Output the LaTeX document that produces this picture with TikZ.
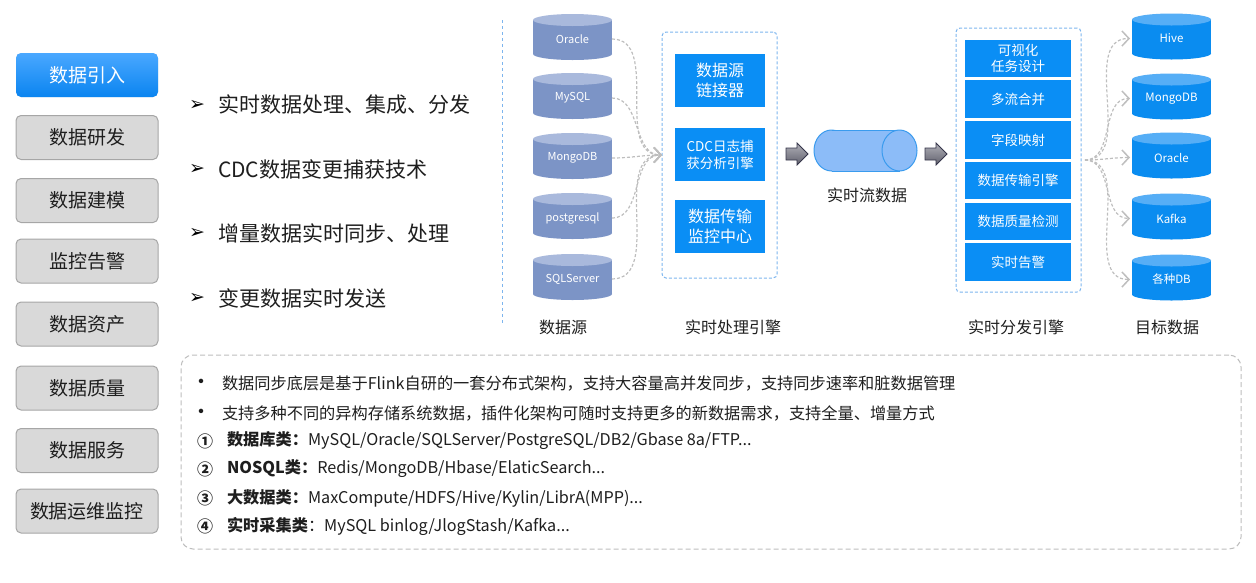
\documentclass[tikz,border=0pt]{standalone}
\usepackage{fontspec}
\setmainfont{Noto Sans CJK SC}
\newfontfamily\dejavu{DejaVu Sans}
\usetikzlibrary{arrows.meta}
\definecolor{txt}{HTML}{1E1E1E}
\definecolor{sidefill}{HTML}{D9D9D9}
\definecolor{sideline}{HTML}{A6A6A6}
\definecolor{btnTop}{HTML}{4AA8FF}
\definecolor{btnBot}{HTML}{0A84F0}
\definecolor{srcbody}{HTML}{7C94C6}
\definecolor{srctop}{HTML}{A9B9DC}
\definecolor{tgtbody}{HTML}{0A8CF0}
\definecolor{tgttop}{HTML}{56AEF6}
\definecolor{procblue}{HTML}{0A8EF5}
\definecolor{dashblue}{HTML}{7DB5EE}
\definecolor{flowgray}{HTML}{BEBEBE}
\definecolor{boxgray}{HTML}{BDBDBD}
\definecolor{streamfill}{HTML}{8CBCF8}
\definecolor{streamline}{HTML}{3A9BEE}
\definecolor{arrtop}{HTML}{B0B0B8}
\definecolor{arrbot}{HTML}{60606C}
\definecolor{arrline}{HTML}{35354A}
\newcommand\vcyl[7]{%
  \fill[#4] ({#2-39.5},{#3-17}) rectangle ({#2+39.5},{#3+17});
  \fill[#4] (#2,{#3+17}) ellipse[x radius=39.5pt, y radius=6pt];
  \fill[#5] (#2,{#3-17}) ellipse[x radius=39.5pt, y radius=6pt];
  \node[cyltext, font=\fontsize{#7}{#7}\selectfont, minimum width=79pt, minimum height=46pt] (#1) at (#2,{#3+2}) {#6};
}
\begin{document}
\begin{tikzpicture}[x=1pt,y=-1pt,
  every node/.style={inner sep=0pt, outer sep=0pt},
  side/.style={draw=sideline, fill=sidefill, rounded corners=5pt, minimum width=142pt, minimum height=44pt, line width=1pt, text=txt, font=\fontsize{19}{20}\selectfont},
  sideact/.style={side, draw=none, top color=btnTop, bottom color=btnBot, text=white},
  feat/.style={anchor=west, text=txt, font=\fontsize{21}{22}\selectfont},
  featmark/.style={text=black, font=\dejavu\bfseries\fontsize{19}{20}\selectfont},
  cyltext/.style={text=white},
  pblk/.style={fill=procblue, text=white, align=center, minimum width=90pt, minimum height=53pt},
  dblk/.style={fill=procblue, text=white, align=center, minimum width=106pt, minimum height=37.5pt, font=\fontsize{13.5}{15.5}\selectfont},
  dashbox/.style={draw=dashblue, dash pattern=on 3pt off 2pt, line width=1pt, rounded corners=4pt},
  flow/.style={draw=flowgray, dash pattern=on 3pt off 2pt, line width=1.2pt, -{Straight Barb[length=7pt,width=15pt,line width=1.5pt]}},
  captext/.style={text=txt, font=\fontsize{16}{18}\selectfont},
  info/.style={anchor=west, text=txt, font=\fontsize{16.2}{18}\selectfont},
  infomark/.style={text=txt, font=\fontsize{16}{18}\selectfont\bfseries},
  blockarrow/.style={draw=arrline, top color=arrtop, bottom color=arrbot, line width=0.8pt}
]
\useasboundingbox (0,0) rectangle (1256,582);

% sidebar
\node[sideact] (s1) at (87,75) {数据引入};
\node[side] (s2) at (87,137.5) {数据研发};
\node[side] (s3) at (87,200.5) {数据建模};
\node[side] (s4) at (87,261) {监控告警};
\node[side] (s5) at (87,324) {数据资产};
\node[side] (s6) at (87,388) {数据质量};
\node[side] (s7) at (87,450.5) {数据服务};
\node[side] (s8) at (87,511) {数据运维监控};

% feature list
\node[featmark] (m1) at (197,105) {➢};
\node[feat] (f1) at (218,105) {实时数据处理、集成、分发};
\node[featmark] (m2) at (197,169) {➢};
\node[feat] (f2) at (218,169) {CDC数据变更捕获技术};
\node[featmark] (m3) at (197,233) {➢};
\node[feat] (f3) at (218,233) {增量数据实时同步、处理};
\node[featmark] (m4) at (197,298) {➢};
\node[feat] (f4) at (218,298) {变更数据实时发送};

% separator
\draw[draw=dashblue, dash pattern=on 3pt off 3pt, line width=1pt] (502,20) -- (502,325);

% sources
\vcyl{oracle}{572.5}{37}{srcbody}{srctop}{Oracle}{11}
\vcyl{mysql}{572.5}{96}{srcbody}{srctop}{MySQL}{11}
\vcyl{mongo}{572.5}{156}{srcbody}{srctop}{MongoDB}{11}
\vcyl{pg}{572.5}{216}{srcbody}{srctop}{postgresql}{11}
\vcyl{sqls}{572.5}{277}{srcbody}{srctop}{SQLServer}{11}
\node[captext] (capsrc) at (563,327) {数据源};

% processing engine
\node[dashbox, minimum width=115pt, minimum height=246pt] (proc) at (719.5,155) {};
\node[pblk, font=\fontsize{16}{20}\selectfont] (p1) at (720,80.5) {数据源\\链接器};
\node[pblk, font=\fontsize{13.5}{17}\selectfont] (p2) at (720,154.5) {CDC日志捕\\获分析引擎};
\node[pblk, font=\fontsize{16}{20}\selectfont] (p3) at (720,226.5) {数据传输\\监控中心};
\node[captext] (capproc) at (733,327) {实时处理引擎};

\draw[flow] (oracle.east) to[out=0,in=180] (proc.west);
\draw[flow] (mysql.east) to[out=0,in=180] (proc.west);
\draw[flow] (mongo.east) to[out=0,in=180] (proc.west);
\draw[flow] (pg.east) to[out=0,in=180] (proc.west);
\draw[flow] (sqls.east) to[out=0,in=180] (proc.west);

% block arrows and stream
\path[blockarrow] (786,148) -- (797,148) -- (797,143) -- (808,154) -- (797,165) -- (797,160) -- (786,160) -- cycle;
\filldraw[fill=streamfill, draw=streamline, line width=1pt] (831.5,150.5) ellipse[x radius=17.5pt, y radius=20.5pt];
\fill[streamfill] (831.5,130) rectangle (899.5,171);
\draw[streamline, line width=1pt] (831.5,130) -- (899.5,130) (831.5,171) -- (899.5,171);
\filldraw[fill=streamfill, draw=streamline, line width=1pt] (899.5,150.5) ellipse[x radius=17.5pt, y radius=20.5pt];
\node[minimum width=103pt, minimum height=41pt] (stream) at (865.5,150.5) {};
\node[captext] (capstream) at (867,195) {实时流数据};
\path[blockarrow] (925,148) -- (936,148) -- (936,143) -- (947,154) -- (936,165) -- (936,160) -- (925,160) -- cycle;

% distribution engine
\node[dashbox, minimum width=125pt, minimum height=264pt] (dist) at (1018.5,160) {};
\node[dblk] (d1) at (1018,58.5) {可视化\\任务设计};
\node[dblk] (d2) at (1018,99.2) {多流合并};
\node[dblk] (d3) at (1018,139.9) {字段映射};
\node[dblk] (d4) at (1018,180.6) {数据传输引擎};
\node[dblk] (d5) at (1018,221.3) {数据质量检测};
\node[dblk] (d6) at (1018,262) {实时告警};
\node[captext] (capdist) at (1016,327) {实时分发引擎};

% targets
\vcyl{hive}{1171.5}{36.5}{tgtbody}{tgttop}{Hive}{11.5}
\vcyl{tmongo}{1171.5}{96.5}{tgtbody}{tgttop}{MongoDB}{11.5}
\vcyl{toracle}{1171.5}{155.5}{tgtbody}{tgttop}{Oracle}{11.5}
\vcyl{kafka}{1171.5}{216.5}{tgtbody}{tgttop}{Kafka}{11.5}
\vcyl{anydb}{1171.5}{277.5}{tgtbody}{tgttop}{各种DB}{11.5}
\node[captext] (captgt) at (1167,327) {目标数据};

\coordinate (fan) at (1085,160);
\draw[flow] (fan) to[out=0,in=180] ([xshift=-2pt]hive.west);
\draw[flow] (fan) to[out=0,in=180] ([xshift=-2pt]tmongo.west);
\draw[flow] (fan) to[out=0,in=180] ([xshift=-2pt]toracle.west);
\draw[flow] (fan) to[out=0,in=180] ([xshift=-2pt]kafka.west);
\draw[flow] (fan) to[out=0,in=180] ([xshift=-2pt]anydb.west);

% info box
\node[draw=boxgray, dash pattern=on 5pt off 3pt, line width=1pt, rounded corners=12pt, minimum width=1060pt, minimum height=194pt] (infobox) at (711,452) {};
\node[infomark] (b1) at (201,383) {•};
\node[info] (l1) at (222,383) {数据同步底层是基于Flink自研的一套分布式架构，支持大容量高并发同步，支持同步速率和脏数据管理};
\node[infomark] (b2) at (201,413) {•};
\node[info] (l2) at (222,413) {支持多种不同的异构存储系统数据，插件化架构可随时支持更多的新数据需求，支持全量、增量方式};
\node[infomark] (n1) at (205,441) {①};
\node[info] (l3) at (227,441) {\textbf{数据库类：}MySQL/Oracle/SQLServer/PostgreSQL/DB2/Gbase 8a/FTP...};
\node[infomark] (n2) at (205,469) {②};
\node[info] (l4) at (227,469) {\textbf{NOSQL类：}Redis/MongoDB/Hbase/ElaticSearch...};
\node[infomark] (n3) at (205,498) {③};
\node[info] (l5) at (227,498) {\textbf{大数据类：}MaxCompute/HDFS/Hive/Kylin/LibrA(MPP)...};
\node[infomark] (n4) at (205,526) {④};
\node[info] (l6) at (227,526) {\textbf{实时采集类}：MySQL binlog/JlogStash/Kafka...};
\end{tikzpicture}
\end{document}
